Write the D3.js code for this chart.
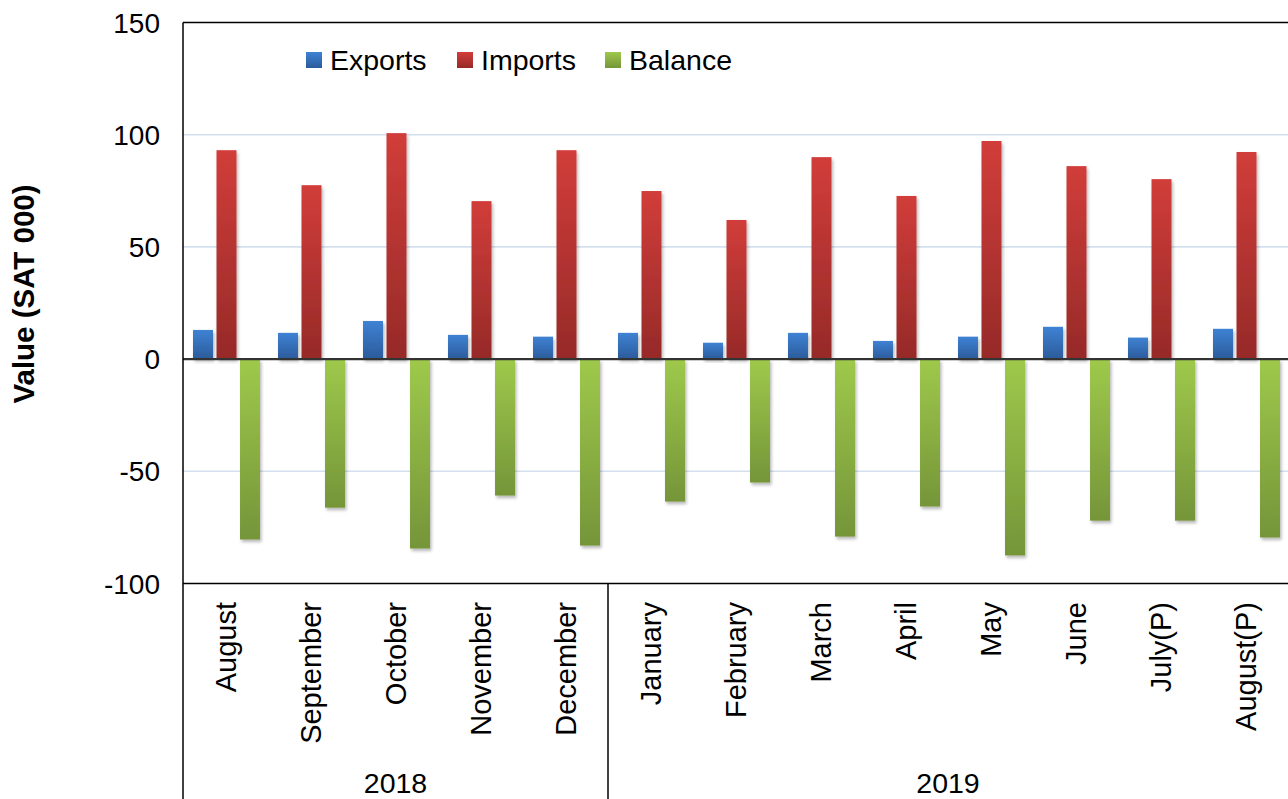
<!DOCTYPE html>
<html>
<head>
<meta charset="utf-8">
<script src="https://cdn.jsdelivr.net/npm/d3@7"></script>
<style>
  html, body { margin: 0; padding: 0; background: #fff; }
  svg { display: block; font-family: "Liberation Sans", Arial, sans-serif; }
</style>
</head>
<body>
<svg id="chart" width="1288" height="799"></svg>
<script>
const months = ["August","September","October","November","December","January","February","March","April","May","June","July(P)","August(P)"];
const years = [{label:"2018", from:0, to:5}, {label:"2019", from:5, to:13}];
const seriesNames = ["Exports","Imports","Balance"];
const exportsVals = [13.0, 11.7, 17.0, 10.8, 10.0, 11.7, 7.3, 11.7, 8.1, 10.0, 14.4, 9.6, 13.5];
const importsVals = [93.1, 77.5, 100.7, 70.4, 93.1, 74.9, 62.0, 90.0, 72.7, 97.2, 86.0, 80.2, 92.3];
const balanceVals = [-80.4, -66.2, -84.4, -60.8, -83.1, -63.5, -55.0, -79.1, -65.7, -87.5, -72.0, -72.0, -79.5];
const yTicks = [-100, -50, 0, 50, 100, 150];

const colors = {
  Exports: ["#3f82d4", "#2b5b9b"],
  Imports: ["#d13d3a", "#962a28"],
  Balance: ["#9ec94b", "#759539"]
};

(function () {
const svg = d3.select("#chart");
const pLeft = 183, pRight = 1288, pTop = 22.5, pBottom = 583.5;

const y = d3.scaleLinear().domain([-100, 150]).range([pBottom, pTop]);
const x0 = d3.scaleBand().domain(months).range([pLeft, pRight]).padding(0);
const x1 = d3.scaleBand().domain(seriesNames).range([10, 77]).paddingInner(0.15).paddingOuter(0);

const defs = svg.append("defs");
seriesNames.forEach(s => {
  const g = defs.append("linearGradient").attr("id", "grad-" + s)
    .attr("x1", 0).attr("y1", 0).attr("x2", 0).attr("y2", 1);
  g.append("stop").attr("offset", "0%").attr("stop-color", colors[s][0]);
  g.append("stop").attr("offset", "100%").attr("stop-color", colors[s][1]);
});
const f = defs.append("filter").attr("id", "shadow").attr("x", "-30%").attr("y", "-10%").attr("width", "170%").attr("height", "130%");
f.append("feDropShadow").attr("dx", 1.5).attr("dy", 2.5).attr("stdDeviation", 1.8)
  .attr("flood-color", "#000").attr("flood-opacity", 0.28);

// gridlines
svg.append("g").selectAll("line").data([100, 50, -50]).join("line")
  .attr("x1", pLeft).attr("x2", pRight)
  .attr("y1", d => y(d)).attr("y2", d => y(d))
  .attr("stroke", "#d5e0ef").attr("stroke-width", 1.6);

// y tick labels
svg.append("g").selectAll("text").data(yTicks).join("text")
  .attr("x", 160).attr("y", d => y(d)).attr("dy", "0.36em")
  .attr("text-anchor", "end").attr("font-size", 28).attr("fill", "#000")
  .text(d => d);

// bars
const data = months.map((m, i) => ({month: m, vals: [
  {s: "Exports", v: exportsVals[i]},
  {s: "Imports", v: importsVals[i]},
  {s: "Balance", v: balanceVals[i]}
]}));

const groups = svg.append("g").selectAll("g").data(data).join("g")
  .attr("transform", d => `translate(${x0(d.month)},0)`);
groups.selectAll("rect").data(d => d.vals).join("rect")
  .attr("x", d => x1(d.s))
  .attr("width", x1.bandwidth())
  .attr("y", d => Math.min(y(d.v), y(0)))
  .attr("height", d => Math.abs(y(d.v) - y(0)))
  .attr("fill", d => `url(#grad-${d.s})`)
  .attr("filter", "url(#shadow)");

// zero line
svg.append("line").attr("x1", pLeft).attr("x2", pRight).attr("y1", y(0)).attr("y2", y(0))
  .attr("stroke", "#333").attr("stroke-width", 2.2);

// frame: top, left, bottom of plot
svg.append("line").attr("x1", pLeft).attr("x2", pRight).attr("y1", pTop).attr("y2", pTop)
  .attr("stroke", "#000").attr("stroke-width", 1.5);
svg.append("line").attr("x1", pLeft).attr("x2", pRight).attr("y1", pBottom).attr("y2", pBottom)
  .attr("stroke", "#000").attr("stroke-width", 1.5);
svg.append("line").attr("x1", pLeft).attr("x2", pLeft).attr("y1", pTop).attr("y2", 799)
  .attr("stroke", "#000").attr("stroke-width", 1.5);

// year divider
years.slice(1).forEach(yr => {
  const xd = x0(months[yr.from]);
  svg.append("line").attr("x1", xd).attr("x2", xd).attr("y1", pBottom).attr("y2", 799)
    .attr("stroke", "#000").attr("stroke-width", 1.5);
});

// month labels
svg.append("g").selectAll("text").data(months).join("text")
  .attr("transform", d => `translate(${x0(d) + x0.bandwidth() / 2},602) rotate(-90)`)
  .attr("dy", "0.36em")
  .attr("text-anchor", "end").attr("font-size", 29).attr("fill", "#000")
  .text(d => d);

// year labels
svg.append("g").selectAll("text").data(years).join("text")
  .attr("x", d => (x0(months[d.from]) + (d.to < months.length ? x0(months[d.to]) : pRight)) / 2)
  .attr("y", 793)
  .attr("text-anchor", "middle").attr("font-size", 28.5).attr("fill", "#000")
  .text(d => d.label);

// y title
svg.append("text")
  .attr("transform", `translate(34,294) rotate(-90)`)
  .attr("text-anchor", "middle").attr("font-size", 29.5).attr("font-weight", "bold").attr("fill", "#000")
  .text("Value (SAT 000)");

// legend
const legendX = [306, 457, 605];
const leg = svg.append("g").selectAll("g").data(seriesNames).join("g")
  .attr("transform", (d, i) => `translate(${legendX[i]},52)`);
leg.append("rect").attr("width", 16).attr("height", 16).attr("fill", d => `url(#grad-${d})`);
leg.append("text").attr("x", 24).attr("y", 8).attr("dy", "0.36em")
  .attr("font-size", 28.5).attr("fill", "#000").text(d => d);
})();
</script>
</body>
</html>
